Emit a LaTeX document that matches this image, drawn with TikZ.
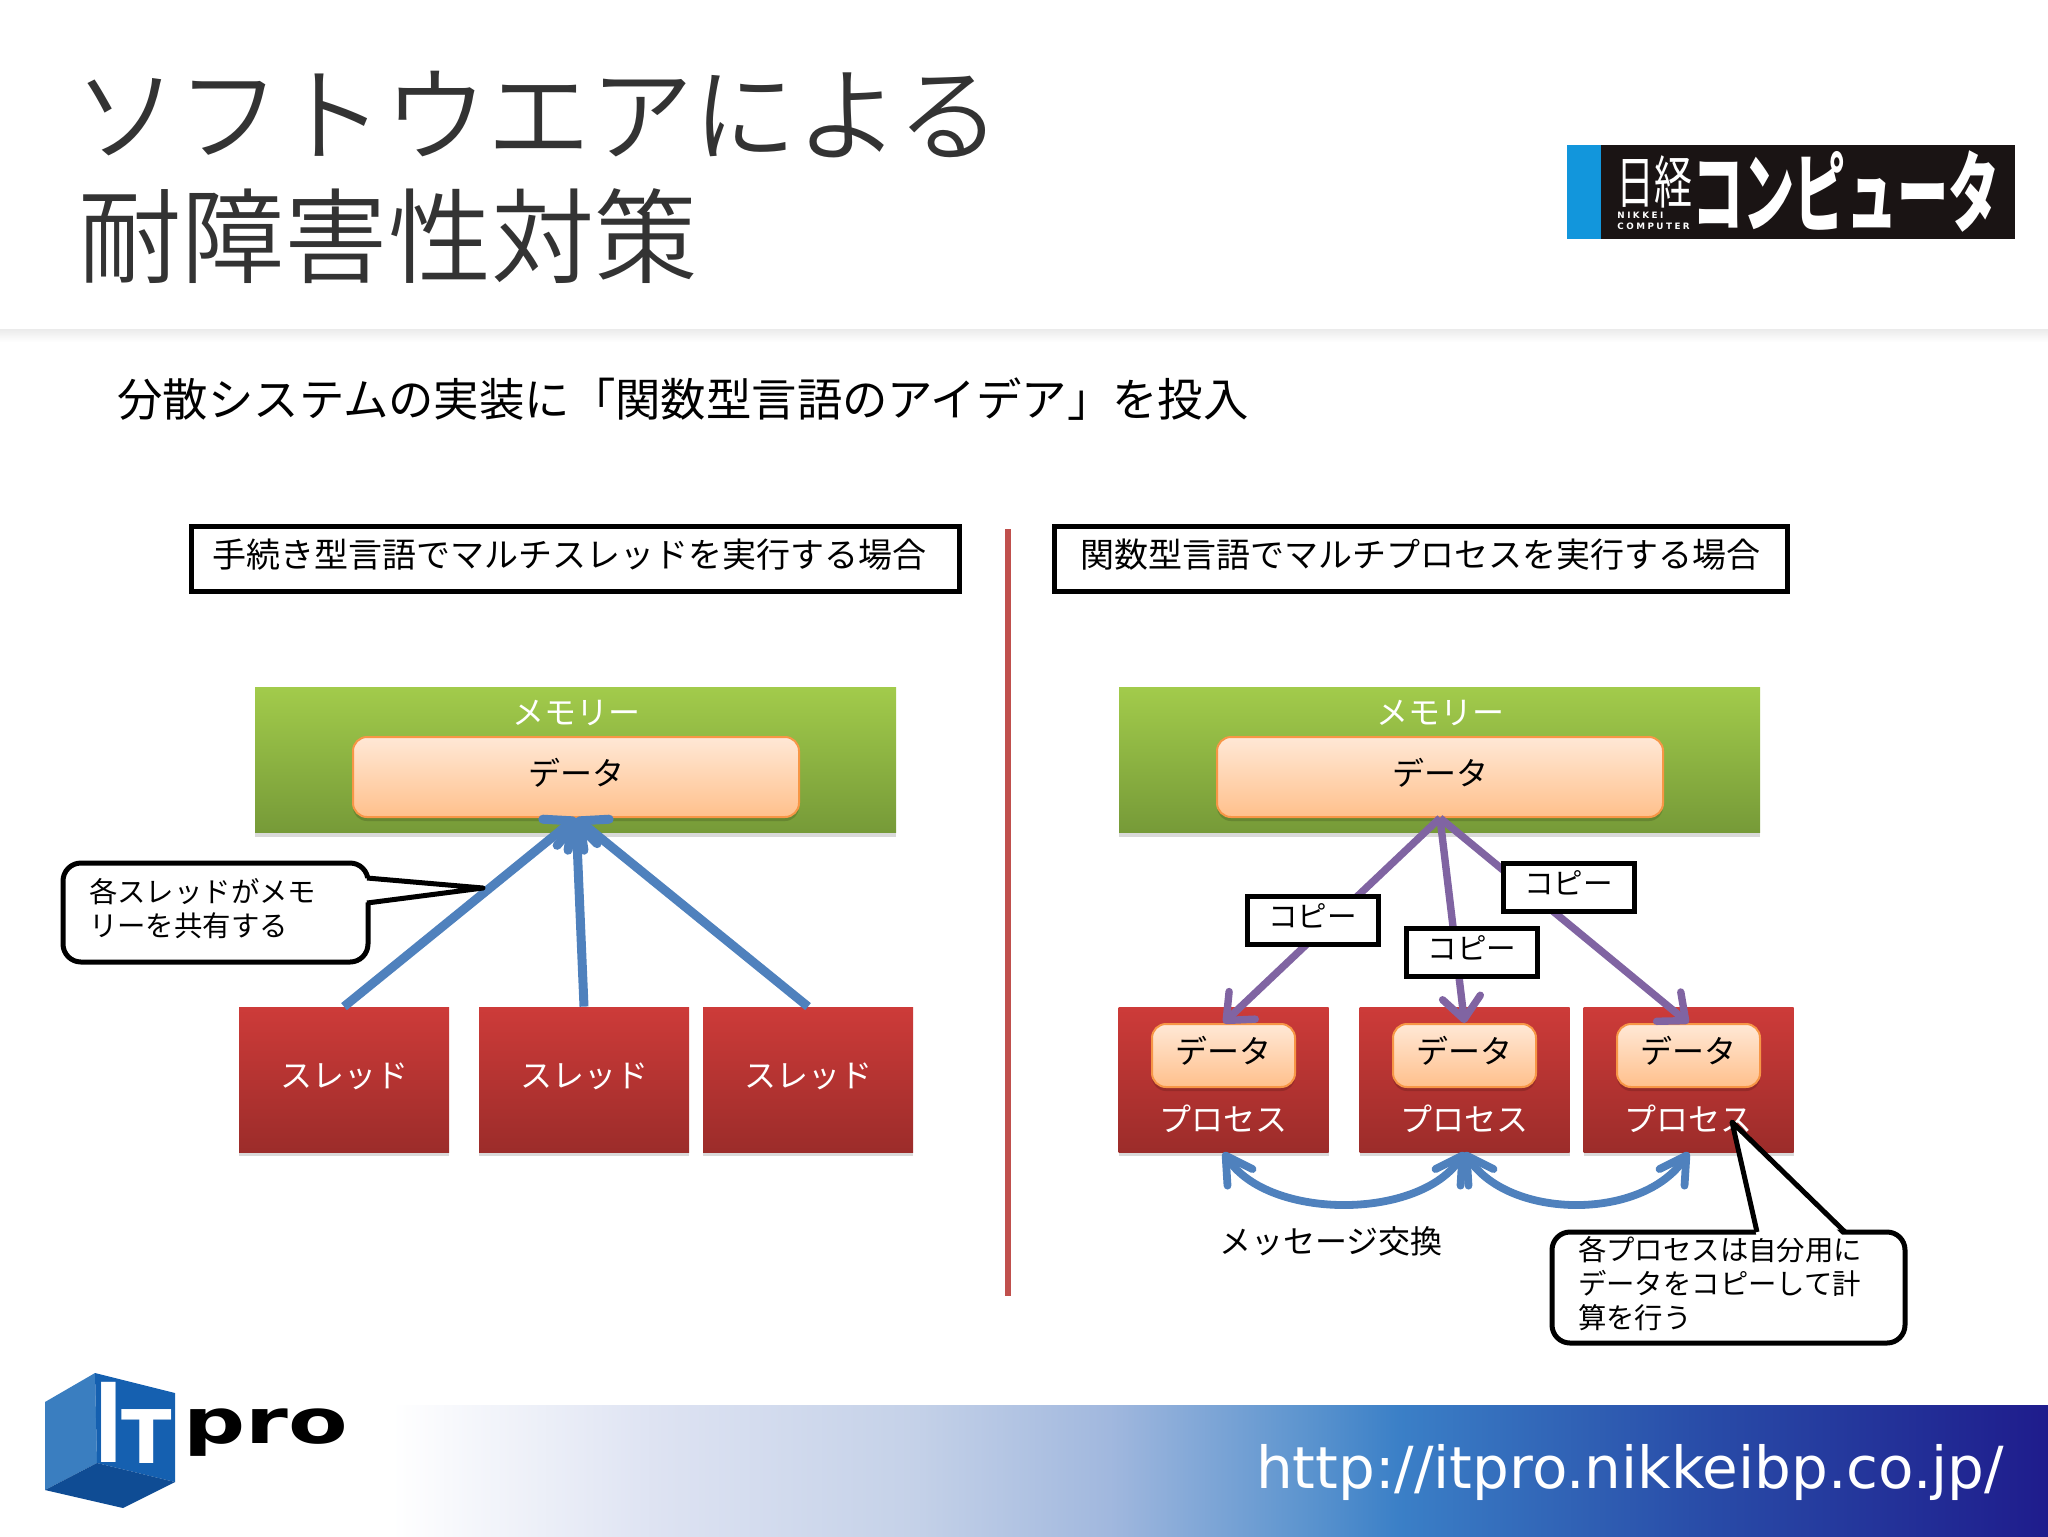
\documentclass[tikz,border=0pt]{standalone}
\usepackage{fontspec}
\setmainfont{Noto Sans CJK JP}
\newfontfamily\titlefont{Noto Sans CJK JP DemiLight}
\newfontfamily\urlfont{DejaVu Sans}
\newfontfamily\tinyfont[LetterSpace=28]{DejaVu Sans}
\usetikzlibrary{arrows.meta,shadows}
\definecolor{titlegray}{HTML}{333333}
\definecolor{greentop}{HTML}{A2CB4B}
\definecolor{greenbot}{HTML}{769A38}
\definecolor{redtop}{HTML}{CD3B39}
\definecolor{redbot}{HTML}{9C2C2A}
\definecolor{peachtop}{HTML}{FFE8D6}
\definecolor{peachbot}{HTML}{FFC08C}
\definecolor{peachline}{HTML}{F79646}
\definecolor{bluearrow}{HTML}{4F81BD}
\definecolor{purplearrow}{HTML}{8064A2}
\definecolor{divred}{HTML}{C0504D}
\pgfdeclarehorizontalshading{bandshade}{100bp}{rgb(0bp)=(1,1,1); rgb(25bp)=(1,1,1);
  rgb(32.9bp)=(.87,.89,.95); rgb(40.8bp)=(.77,.82,.91); rgb(46.7bp)=(.63,.72,.87);
  rgb(52.6bp)=(.36,.58,.81); rgb(55.4bp)=(.23,.50,.78); rgb(64.5bp)=(.16,.30,.66);
  rgb(75bp)=(.12,.11,.55); rgb(100bp)=(.12,.11,.55)}
\begin{document}
\begin{tikzpicture}
[x=0.5pt,y=-0.5pt,
 softshadow/.style={drop shadow={shadow xshift=0pt,shadow yshift=-2pt,opacity=.15,fill=black}},
 memorybox/.style={inner sep=0pt,minimum width=320.5pt,minimum height=72.5pt,
   top color=greentop,bottom color=greenbot,softshadow},
 redbox/.style={inner sep=0pt,minimum width=105pt,minimum height=72.5pt,text=white,
   top color=redtop,bottom color=redbot,softshadow,text height=12pt,text depth=4pt,
   font=\fontsize{16}{18}\selectfont},
 databox/.style={draw=peachline,line width=1pt,rounded corners=7pt,inner sep=0pt,
   top color=peachtop,bottom color=peachbot,softshadow,text height=12pt,text depth=4pt,
   font=\fontsize{16}{18}\selectfont},
 plainlabel/.style={inner sep=0pt,font=\fontsize{16}{18}\selectfont},
 headbox/.style={draw,line width=2.5pt,fill=white,inner sep=0pt,minimum height=32.5pt,
   text height=12.8pt,text depth=4.3pt,font=\fontsize{17}{20}\selectfont},
 copybox/.style={draw,line width=2.5pt,fill=white,inner sep=0pt,minimum width=65.5pt,
   minimum height=24pt,text height=11pt,text depth=3.7pt,font=\fontsize{14.8}{17}\selectfont},
 callbox/.style={draw,line width=2.5pt,fill=white,rounded corners=9pt,inner xsep=13pt,
   inner ysep=0pt,align=left,font=\fontsize{14.2}{17}\selectfont},
 calltail/.style={draw,line width=2.5pt,line join=round},
 sharearrow/.style={draw=bluearrow,line width=4.5pt,-{Straight Barb[round,length=11pt,width=20pt]}},
 copyarrow/.style={draw=purplearrow,line width=3.7pt,-{Straight Barb[round,length=11pt,width=19pt]}},
 msgarrow/.style={draw=bluearrow,line width=3.9pt,{Straight Barb[round,length=13pt,width=15pt]}-{Straight Barb[round,length=13pt,width=15pt]}}]
\useasboundingbox (0,0) rectangle (2048,1536);
%% header and footer
\shade[top color=black!8,bottom color=white] (0,329) rectangle (2048,342);
\shade[shading=bandshade] (392,1405) rectangle (2048,1536);
\node[inner sep=0pt,anchor=west,text=titlegray,font=\titlefont\fontsize{51.6}{60}\selectfont]
  (title1) at (74,115) {ソフトウエアによる};
\node[inner sep=0pt,anchor=west,text=titlegray,font=\titlefont\fontsize{51.6}{60}\selectfont]
  (title2) at (78,236) {耐障害性対策};
\node[inner sep=0pt,anchor=west,font=\fontsize{22.7}{27}\selectfont]
  (subtitle) at (117,399) {分散システムの実装に「関数型言語のアイデア」を投入};
\node[inner sep=0pt,anchor=base,text=white,font=\urlfont\fontsize{29}{34}\selectfont]
  (url) at (1630,1488) {http://itpro.nikkeibp.co.jp/};
%% magazine logo
\fill[fill={rgb,255:red,26;green,20;blue,20}] (1601,145) rectangle (2015,239);
\fill[fill={rgb,255:red,18;green,150;blue,220}] (1567,145) rectangle (1601,239);
\node[inner sep=0pt,text=white,yscale=1.5,font=\fontsize{19}{20}\selectfont]
  (nikkei) at (1654,182) {日経};
\node[inner sep=0pt,anchor=north west,text=white,align=left,font=\tinyfont\bfseries\fontsize{4.4}{5.2}\selectfont]
  (nikkeien) at (1617,212) {NIKKEI\\COMPUTER};
\node[inner sep=0pt,text=white,yscale=1.72,font=\bfseries\fontsize{25.6}{28}\selectfont]
  (computer) at (1846,192) {コンピュータ};
%% cube logo
\fill[fill={rgb,255:red,58;green,126;blue,192}] (45,1402) -- (95,1373) -- (97,1463) -- (45,1490) -- cycle;
\fill[fill={rgb,255:red,21;green,96;blue,176}] (95,1373) -- (175,1393) -- (175,1482) -- (97,1463) -- cycle;
\fill[fill={rgb,255:red,15;green,76;blue,148}] (45,1490) -- (97,1463) -- (175,1482) -- (123,1508) -- cycle;
\node[inner sep=0pt,anchor=base,text=white,xscale=.7,font=\urlfont\bfseries\fontsize{55}{60}\selectfont]
  (logoi) at (109,1462) {I};
\node[inner sep=0pt,anchor=base,text=white,font=\urlfont\bfseries\fontsize{37}{40}\selectfont]
  (logot) at (147,1463) {T};
\node[inner sep=0pt,anchor=base west,xscale=1.4,font=\urlfont\bfseries\fontsize{31}{34}\selectfont]
  (logopro) at (183,1443) {pro};
%% the two headings and the divider
\node[headbox,minimum width=384pt] (headleft) at (575,558.5) {手続き型言語でマルチスレッドを実行する場合\kern6pt};
\node[headbox,minimum width=366.5pt] (headright) at (1420.5,558.5) {関数型言語でマルチプロセスを実行する場合};
\coordinate (divtop) at (1008,529);
\coordinate (divbot) at (1008,1296);
\draw[divred,line width=3.4pt] (divtop) -- (divbot);
%% left side: threads
\node[memorybox] (memleft) at (575.5,760) {};
\node[plainlabel,text=white] (memlabelleft) at (576,713) {メモリー};
\node[databox,minimum width=223pt,minimum height=40pt] (dataleft) at (576,777) {データ};
\foreach \tname/\xpos in {1/344, 2/584, 3/808} {
  \node[redbox] (thread\tname) at (\xpos,1079.5) {スレッド};
  \draw[sharearrow] (thread\tname.north) -- (dataleft.south);
}
\node[callbox,text width=126.5pt,minimum height=49.5pt] (callleft) at (215.5,912.5) {各スレッドがメモ\\リーを共有する\par\kern4pt};
\coordinate (tailleftA) at (367,878);
\coordinate (tailleftB) at (367,903);
\coordinate (tailleftC) at (483,888);
\fill[white] ([xshift=-3pt]tailleftA) -- (tailleftC) -- ([xshift=-3pt]tailleftB) -- cycle;
\draw[calltail] (tailleftA) -- (tailleftC) -- (tailleftB);
%% right side: processes
\node[memorybox] (memright) at (1439.5,760) {};
\node[plainlabel,text=white] (memlabelright) at (1440,713) {メモリー};
\node[databox,minimum width=223pt,minimum height=40pt] (dataright) at (1440,777) {データ};
\foreach \pname/\xpos in {1/1223.5, 2/1464.5, 3/1688.5} {
  \node[redbox] (proc\pname) at (\xpos,1079.5) {};
  \node[databox,minimum width=71.5pt,minimum height=31.5pt] (procdata\pname) at (\xpos,1055.5) {データ};
  \node[plainlabel,text=white] (proclabel\pname) at (\xpos,1119) {プロセス};
  \draw[copyarrow] (dataright.south) -- (procdata\pname.north);
}
\node[copybox] (copy1) at (1312.5,920) {コピー};
\node[copybox] (copy2) at (1472,952) {コピー};
\node[copybox] (copy3) at (1568.5,887.5) {コピー};
%% message exchange
\draw[msgarrow] (proc1.south) .. controls +(45,68) and +(-45,68) .. (proc2.south);
\draw[msgarrow] (proc2.south) .. controls +(45,68) and +(-45,68) .. (proc3.south);
\node[plainlabel] (msglabel) at (1331,1241) {メッセージ交換};
%% note on the copies
\node[callbox,text width=150.5pt,minimum height=55.5pt] (callright) at (1728.5,1287.5) {各プロセスは自分用に\\データをコピーして計\\算を行う\par\kern4pt};
\coordinate (tailrightA) at (1757,1232);
\coordinate (tailrightB) at (1845,1232);
\coordinate (tailrightC) at (1732,1122);
\fill[white] ([yshift=-3pt]tailrightA) -- (tailrightC) -- ([yshift=-3pt]tailrightB) -- cycle;
\draw[calltail] (tailrightA) -- (tailrightC) -- (tailrightB);
\end{tikzpicture}
\end{document}
